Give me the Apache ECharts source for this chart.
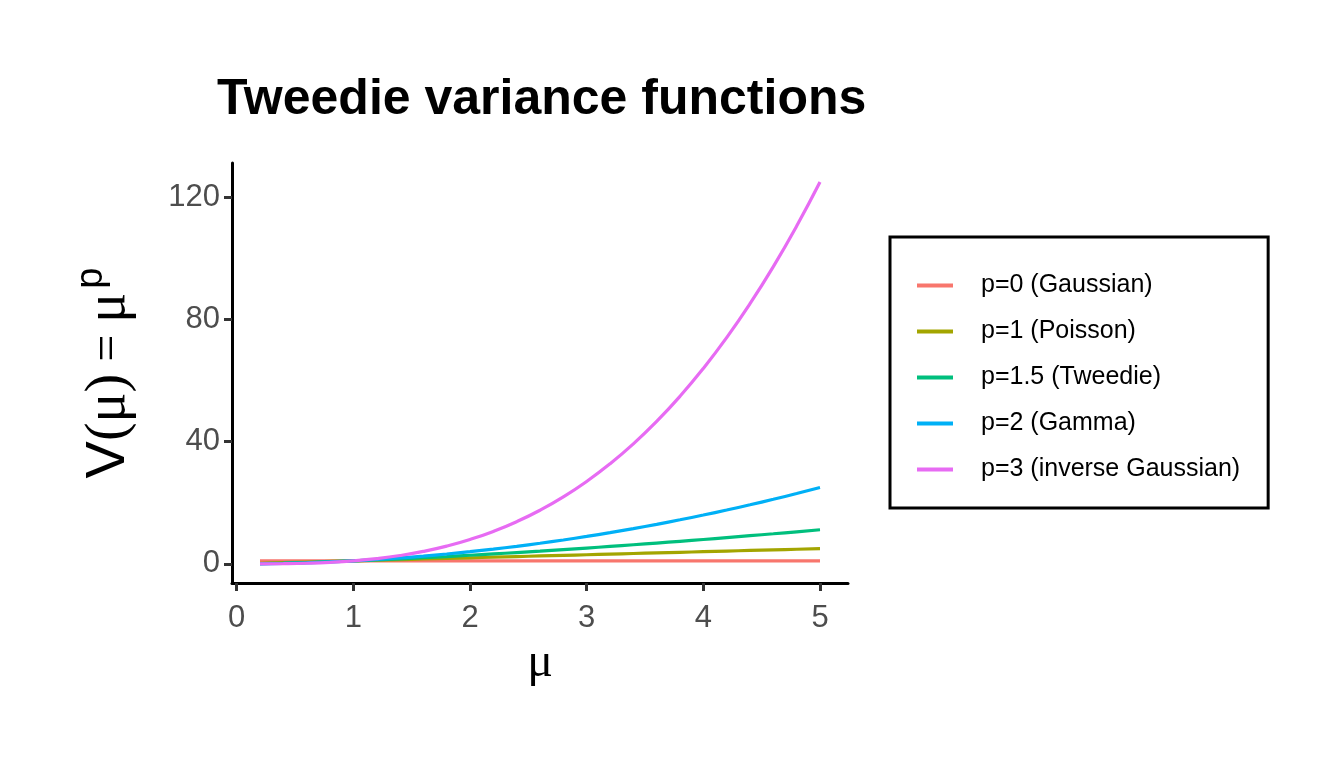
<!DOCTYPE html>
<html>
<head>
<meta charset="utf-8">
<script src="https://cdn.jsdelivr.net/npm/echarts@6/dist/echarts.min.js"></script>
<style>html,body{margin:0;padding:0;background:#fff}#c{width:1344px;height:768px}</style>
</head>
<body>
<div id="c"></div>
<script>
const mu = [0.2,0.4,0.6,0.8,1.0,1.2,1.4,1.6,1.8,2.0,2.2,2.4,2.6,2.8,3.0,3.2,3.4,3.6,3.8,4.0,4.2,4.4,4.6,4.8,5.0];
const vGaussian = [1,1,1,1,1,1,1,1,1,1,1,1,1,1,1,1,1,1,1,1,1,1,1,1,1];
const vPoisson = [0.2,0.4,0.6,0.8,1.0,1.2,1.4,1.6,1.8,2.0,2.2,2.4,2.6,2.8,3.0,3.2,3.4,3.6,3.8,4.0,4.2,4.4,4.6,4.8,5.0];
const vTweedie = [0.089,0.253,0.465,0.716,1,1.315,1.657,2.024,2.415,2.828,3.263,3.718,4.192,4.685,5.196,5.724,6.269,6.831,7.408,8,8.607,9.23,9.866,10.516,11.18];
const vGamma = [0.04,0.16,0.36,0.64,1,1.44,1.96,2.56,3.24,4,4.84,5.76,6.76,7.84,9,10.24,11.56,12.96,14.44,16,17.64,19.36,21.16,23.04,25];
const vInvGauss = [0.008,0.064,0.216,0.512,1,1.728,2.744,4.096,5.832,8,10.648,13.824,17.576,21.952,27,32.768,39.304,46.656,54.872,64,74.088,85.184,97.336,110.592,125];
const seriesNames = ['p=0 (Gaussian)','p=1 (Poisson)','p=1.5 (Tweedie)','p=2 (Gamma)','p=3 (inverse Gaussian)'];
const seriesColors = ['#F8766D','#A3A500','#00BF7D','#00B0F6','#E76BF3'];
const xTicks = [0,1,2,3,4,5];
const yTicks = [0,40,80,120];
const allValues = [vGaussian, vPoisson, vTweedie, vGamma, vInvGauss];

const SANS = 'Liberation Sans, Arial, sans-serif';
const SERIF = 'Liberation Serif, Times New Roman, serif';
const chart = echarts.init(document.getElementById('c'));
const series = allValues.map((vals, i) => ({
  name: seriesNames[i],
  type: 'line',
  data: mu.map((x, j) => [x, vals[j]]),
  smooth: true,
  showSymbol: false,
  lineStyle: { width: 3.2, color: seriesColors[i] },
  itemStyle: { color: seriesColors[i] },
  z: 2 + i
}));

chart.setOption({
  animation: false,
  backgroundColor: '#fff',
  title: {
    text: 'Tweedie variance functions',
    left: 212, top: 70,
    textStyle: { fontFamily: SANS, fontWeight: 'bold', fontSize: 50, color: '#000' }
  },
  grid: { left: 232, top: 163, width: 616, height: 420, containLabel: false },
  legend: {
    orient: 'vertical',
    left: 890, top: 237,
    padding: [36, 28, 26, 27],
    itemGap: 21,
    itemWidth: 36, itemHeight: 4,
    borderColor: '#000', borderWidth: 3,
    data: seriesNames.map(n => ({ name: n, icon: 'rect' })),
    itemStyle: { borderWidth: 0 },
    textStyle: { fontFamily: SANS, fontSize: 25, color: '#000', padding: [0, 0, 0, 23] }
  },
  xAxis: {
    type: 'value', min: -0.04, max: 5.24,
    name: 'μ', nameLocation: 'middle', nameGap: 56,
    nameTextStyle: { fontFamily: SERIF, fontSize: 48, color: '#000' },
    axisLine: { onZero: false, lineStyle: { color: '#000', width: 3 } },
    axisTick: { show: true, customValues: xTicks, length: 8, lineStyle: { color: '#333', width: 3 } },
    axisLabel: { customValues: xTicks, margin: 20, fontFamily: SANS, fontSize: 31, color: '#4d4d4d' },
    splitLine: { show: false }
  },
  yAxis: {
    type: 'value', min: -6.25, max: 131.25,
    name: '{v|V}{m|(μ)}{e| = }{m|μ}{p|p}', nameLocation: 'middle', nameGap: 87, nameRotate: 90,
    nameTextStyle: {
      color: '#000',
      rich: {
        v: { fontFamily: SANS, fontSize: 56, color: '#000' },
        m: { fontFamily: SERIF, fontSize: 56, color: '#000' },
        e: { fontFamily: SERIF, fontSize: 48, color: '#000' },
        p: { fontFamily: SANS, fontSize: 38, color: '#000', verticalAlign: 'top', padding: [0, 0, 34, 4] }
      }
    },
    axisLine: { onZero: false, lineStyle: { color: '#000', width: 3 } },
    axisTick: { show: true, customValues: yTicks, length: 8, lineStyle: { color: '#333', width: 3 } },
    axisLabel: { customValues: yTicks, margin: 12, fontFamily: SANS, fontSize: 31, color: '#4d4d4d' },
    splitLine: { show: false }
  },
  series: series
});
</script>
</body>
</html>
